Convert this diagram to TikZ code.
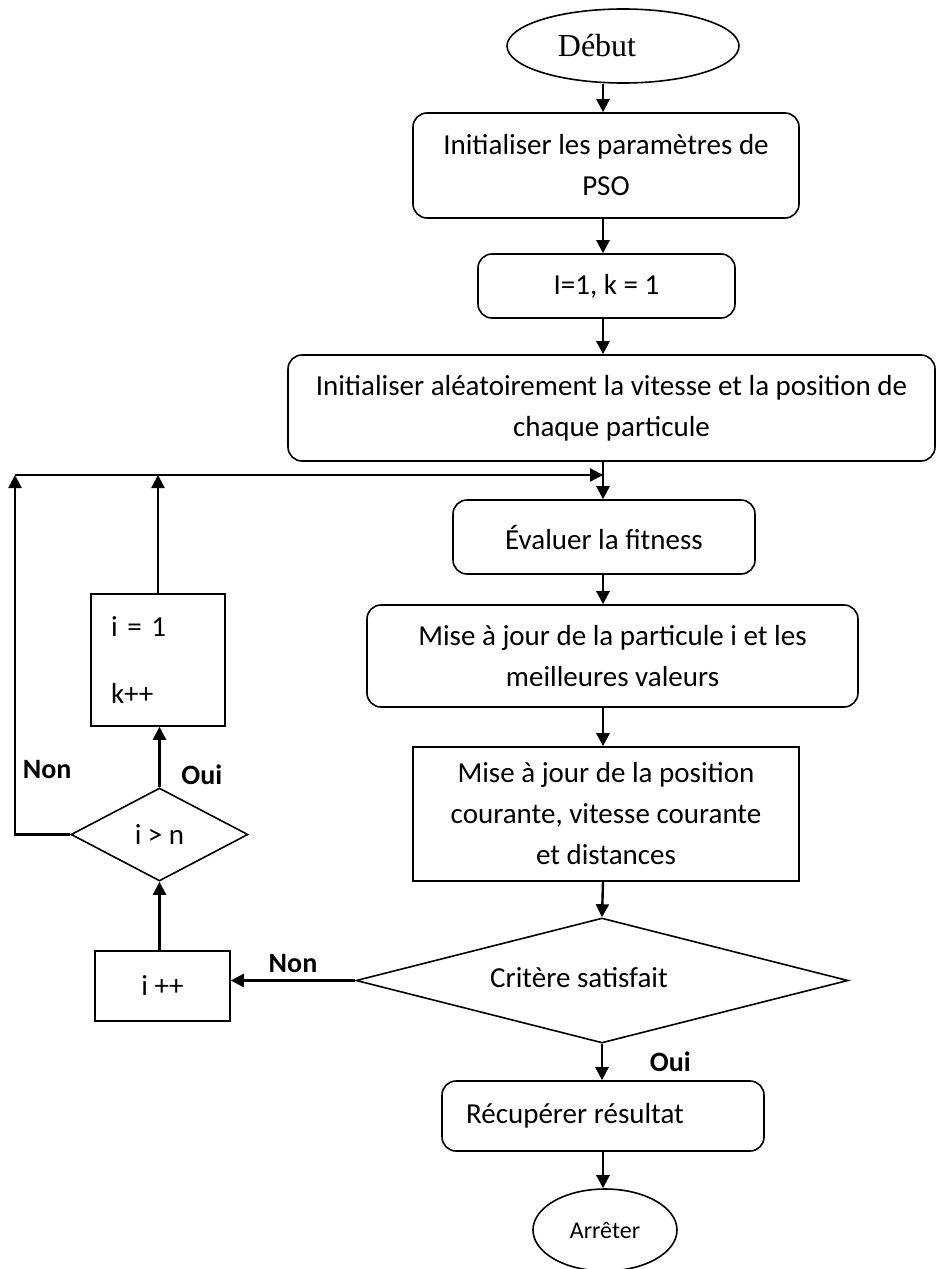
\documentclass[tikz,border=0pt]{standalone}
\usepackage{fontspec}
\setmainfont{Carlito}
\newfontfamily\timesfont{Liberation Serif}
\usetikzlibrary{shapes.geometric,arrows.meta,positioning}
\tikzset{
  arrow/.style = {line width=1.2pt, -{Triangle[length=6.5pt,width=6.5pt]}},
  process/.style = {draw, line width=0.8pt, rounded corners=7pt, align=center, inner sep=0pt,
    font=\fontsize{14.5}{20.5}\selectfont},
  plainbox/.style = {draw, line width=0.8pt, align=center, inner sep=0pt,
    font=\fontsize{14.5}{20.5}\selectfont},
  decision/.style = {draw, diamond, line width=0.8pt, inner sep=0pt, font=\fontsize{14.5}{17}\selectfont},
  terminal/.style = {draw, ellipse, line width=0.8pt, inner sep=0pt},
  lbl/.style = {font=\bfseries\fontsize{14}{16}\selectfont}
}
\begin{document}
\begin{tikzpicture}[x=0.5pt,y=-0.5pt]
\useasboundingbox (0,0) rectangle (936,1269);

% main column
\coordinate (spine) at (603,0);
\node[terminal, minimum width=116pt, minimum height=37pt, font=\timesfont\fontsize{16}{19}\selectfont]
  (start) at (623,46) {Début\hspace*{26pt}};
\node[process, minimum width=193pt, minimum height=52.5pt] (init) at (606,165.5)
  {Initialiser les paramètres de\\PSO};
\node[process, minimum width=128.5pt, minimum height=32pt] (counters) at (606.5,286) {I=1, k = 1};
\node[process, minimum width=323.5pt, minimum height=53pt] (swarm) at (611.5,408)
  {Initialiser aléatoirement la vitesse et la position de\\chaque particule};
\node[process, minimum width=151pt, minimum height=37pt] (fitness) at (604,537) {Évaluer la fitness};
\node[process, minimum width=245.5pt, minimum height=51pt] (best) at (612.5,656)
  {Mise à jour de la particule i et les\\meilleures valeurs};
\node[plainbox, minimum width=193pt, minimum height=67pt] (move) at (606,814)
  {Mise à jour de la position\\courante, vitesse courante\\et distances};
\node[decision, shape aspect=3.9, minimum width=246pt, minimum height=62.5pt] (crit) at (602,980.5)
  {\raisebox{3pt}{Critère satisfait}\hspace*{23pt}};
\node[process, minimum width=161pt, minimum height=35pt] (result) at (603,1116)
  {Récupérer résultat\hspace*{28pt}};
\node[terminal, minimum width=72pt, minimum height=41pt, font=\fontsize{12}{14}\selectfont]
  (stop) at (605,1230) {Arrêter};

% loop on the left
\node[plainbox, text width=47pt, align=left, inner xsep=10pt, minimum height=66pt]
  (reset) at (158,660) {i = 1\\[13pt]k++};
\node[decision, shape aspect=1.9, minimum width=88.5pt, minimum height=46.5pt] (test) at (159.5,834.5) {i > n};
\node[plainbox, minimum width=67.5pt, minimum height=35pt] (inc) at (162.5,986) {i ++};
\coordinate (loopL) at (15,475);
\coordinate (join) at (603,475);

\draw[arrow] (start.south -| spine) -- (init.north -| spine);
\draw[arrow] (init.south -| spine) -- (counters.north -| spine);
\draw[arrow] (counters.south -| spine) -- (swarm.north -| spine);
\draw[arrow] (swarm.south -| spine) -- (fitness.north -| spine);
\draw[arrow] (fitness.south -| spine) -- (best.north -| spine);
\draw[arrow] (best.south -| spine) -- (move.north -| spine);
\draw[arrow] (move.south -| spine) -- (crit.north);
\draw[arrow] (crit.south) -- node[lbl, right=20pt] {Oui} (result.north -| crit.south);
\draw[arrow] (result.south -| spine) -- (stop.north -| spine);

\draw[arrow] (crit.west) -- node[lbl, above] {Non} (crit.west -| inc.east);
\draw[arrow] (inc.north -| test.south) -- (test.south);
\draw[arrow] (test.north) -- node[lbl, right=7pt, pos=0.2] {Oui} (test.north |- reset.south);
\draw[arrow] (test.west) -| node[lbl, right, pos=0.59] {Non} (loopL);
\draw[arrow] (reset.north) -- (reset.north |- loopL);
\draw[arrow] (loopL) -- (join);
\end{tikzpicture}
\end{document}
